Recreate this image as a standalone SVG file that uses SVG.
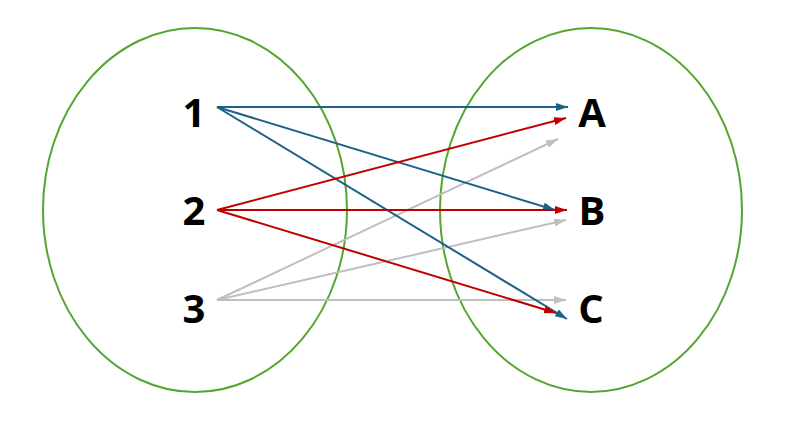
<svg xmlns="http://www.w3.org/2000/svg" width="787" height="427" viewBox="0 0 787 427">
<style>
.set{fill:none;stroke:#55A531;stroke-width:2}
.lbl{font-family:"Open Sans","Noto Sans",sans-serif;font-weight:bold;font-size:40px;fill:#000;text-anchor:middle}
.b{stroke:#1C6288;stroke-width:2;fill:none}
.r{stroke:#C00000;stroke-width:2;fill:none}
.g{stroke:#BFBFBF;stroke-width:2;fill:none}
</style>
<defs>
<marker id="mb" markerUnits="userSpaceOnUse" markerWidth="12" markerHeight="8" refX="12" refY="4" orient="auto"><path d="M0,0 L12,4 L0,8 z" fill="#1C6288"/></marker>
<marker id="mr" markerUnits="userSpaceOnUse" markerWidth="12" markerHeight="8" refX="12" refY="4" orient="auto"><path d="M0,0 L12,4 L0,8 z" fill="#C00000"/></marker>
<marker id="mg" markerUnits="userSpaceOnUse" markerWidth="12" markerHeight="8" refX="12" refY="4" orient="auto"><path d="M0,0 L12,4 L0,8 z" fill="#BFBFBF"/></marker>
</defs>
<g id="domain"><ellipse class="set" cx="195" cy="210" rx="152" ry="182"/></g>
<g id="codomain"><ellipse class="set" cx="591" cy="210" rx="151" ry="182"/></g>
<g id="connectors">
<line class="g" x1="217" y1="300" x2="558" y2="139" marker-end="url(#mg)"/>
<line class="g" x1="217" y1="300" x2="566" y2="220" marker-end="url(#mg)"/>
<line class="g" x1="217" y1="300" x2="566" y2="300" marker-end="url(#mg)"/>
<line class="b" x1="217" y1="107" x2="568" y2="107" marker-end="url(#mb)"/>
<line class="b" x1="217" y1="107" x2="555" y2="210" marker-end="url(#mb)"/>
<line class="b" x1="217" y1="107" x2="567" y2="319" marker-end="url(#mb)"/>
<line class="r" x1="217" y1="210" x2="566" y2="118" marker-end="url(#mr)"/>
<line class="r" x1="217" y1="210" x2="567" y2="210" marker-end="url(#mr)"/>
<line class="r" x1="217" y1="210" x2="556" y2="313" marker-end="url(#mr)"/>
</g>
<g id="n1"><text class="lbl" x="194" y="127">1</text></g>
<g id="n2"><text class="lbl" x="194" y="225">2</text></g>
<g id="n3"><text class="lbl" x="194" y="323">3</text></g>
<g id="nA"><text class="lbl" x="592" y="127">A</text></g>
<g id="nB"><text class="lbl" x="592" y="225">B</text></g>
<g id="nC"><text class="lbl" x="591" y="323">C</text></g>
</svg>
